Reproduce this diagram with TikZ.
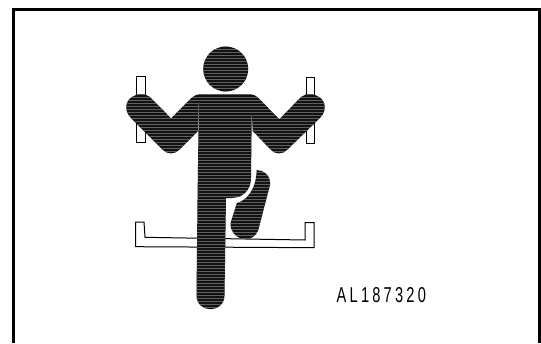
\documentclass[tikz,border=0pt]{standalone}
\usepackage{fontspec}
\setmainfont{Liberation Sans}
\newfontfamily\labelfont[FakeStretch=0.68,LetterSpace=15]{Liberation Sans}
\definecolor{inkfill}{RGB}{18,18,18}
\definecolor{inkstripe}{RGB}{95,95,95}
\usetikzlibrary{positioning}

\begin{document}
\begin{tikzpicture}[
      x=1pt, y=-1pt,
      frameline/.style={line width=3pt, black},
      outline/.style={line width=1pt, black, fill=white, line join=miter},
      inked/.style={line width=1.4pt, black, fill=inkfill, line join=round,
        path picture={
          \foreach \yy in {40,43,...,320} {
            \draw[inkstripe, line width=0.8pt] (100,\yy) -- (340,\yy);
          }
        }},
      lab/.style={font=\labelfont\fontsize{21.5}{21.5}\selectfont, inner sep=0pt, anchor=west}
    ]
    \useasboundingbox (0,0) rectangle (541,343);
    % Frame, open at the bottom
    \draw[frameline] (13.5,343) -- (13.5,9.5) -- (539.2,9.5) -- (539.2,343);
    % Handles
    \draw[outline] (136.7,76.7) rectangle (145,142.7);
    \draw[outline] (306,77.7) rectangle (314.3,143.3);
    % Step
    \draw[outline] (135.7,222) -- (144,222) -- (145,237.3) -- (305,240) -- (305,222.7)
      -- (314,222.7) -- (314,247.7) -- (135.7,246.7) -- cycle;
    % Head
    \path[inked] (225.7,69) circle (22.5);
    % Arms
    \path[inked] (198,131) -- (179,150) .. controls (175,154.5) and (167,154.5) .. (163,150)
      -- (131,118) .. controls (124,111) and (125,101) .. (132,97)
      .. controls (137,93) and (145,93) .. (150,97)
      -- (171,118.3) -- (192,97.5) .. controls (194,95.5) and (197,94.5) .. (199,94.5) -- cycle;
    \path[inked] (252.7,131) -- (271,150) .. controls (275,154.5) and (283,154.5) .. (287,150)
      -- (320,118) .. controls (327,111) and (326,101) .. (319,97)
      .. controls (314,93) and (306,93) .. (301,97)
      -- (279.3,119.3) -- (258,97.5) .. controls (256,95.5) and (253,94.5) .. (251,94.5) -- cycle;
    % Body and standing leg
    \path[inked] (199,94) -- (252,94) -- (251,178) .. controls (251,190) and (243,198) .. (231,198)
      -- (226,198) -- (224.5,295) .. controls (224.5,314) and (196.5,314) .. (196.5,295)
      -- (197.5,200) -- cycle;
    % Raised leg
    \path[inked] (256.7,170) .. controls (264,170) and (271,176) .. (270,185)
      -- (258.3,230) .. controls (254,243) and (235,242) .. (231,228)
      .. controls (230,224) and (231,222) .. (231.5,220)
      -- (236.7,203.3) .. controls (247,200) and (256,190) .. (256.7,170) -- cycle;
    \node[lab] (partno) at (336.5,295) {AL187320};
  \end{tikzpicture}
\end{document}
